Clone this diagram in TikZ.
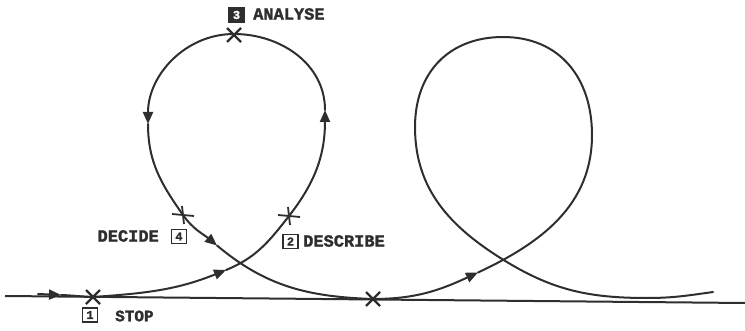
\documentclass[tikz,border=0pt]{standalone}
\usepackage{fontspec}
\newfontfamily\lblfont{Liberation Mono}[BoldFeatures={FakeBold=1.6}]
\usetikzlibrary{arrows.meta}
\definecolor{ink}{HTML}{2E2E2E}
\tikzset{
  curve/.style={line width=2pt, draw=ink, line cap=round},
  arr/.style={-{Triangle[length=12pt,width=10pt]}},
  lbl/.style={font=\lblfont\bfseries\fontsize{17}{17}\selectfont, inner sep=0pt, text=ink},
  numbox/.style={draw=ink, line width=1.8pt, minimum width=15pt, minimum height=14pt, inner sep=0pt,
     font=\lblfont\bfseries\fontsize{12}{12}\selectfont, text=ink},
  xcross/.pic={\draw[line width=2.4pt, ink] (-7,-7) -- (7,7) (-7,7) -- (7,-7);},
  pcross/.pic={\draw[line width=1.8pt, ink] (-11,1) -- (11,-1) (-1,9) -- (1,-9);}
}
\begin{document}
\begin{tikzpicture}[x=1pt,y=1pt]
\useasboundingbox (0,0) rectangle (745,330);
% baseline
\coordinate (BL) at (5,34);
\coordinate (BR) at (745,27);
\draw[line width=2pt, ink] (BL) -- (BR);
% curve points
\coordinate (S)  at (38,36);
\coordinate (A1) at (61,35);
\coordinate (M1) at (93,33);
\coordinate (A2) at (226,60);
\coordinate (D2) at (289,114);
\coordinate (R1) at (325,220);
\coordinate (T1) at (234,296);
\coordinate (L1) at (148,206);
\coordinate (D4) at (183,115);
\coordinate (A5) at (217,84.5);
\coordinate (B)  at (373,31);
\coordinate (A6) at (478,57.5);
\coordinate (R2) at (592,195);
\coordinate (T2) at (503,293);
\coordinate (L2) at (415,203);
\coordinate (X2) at (502,71);
\coordinate (B2) at (647,32);
\coordinate (E)  at (713,38);
% curve
\draw[curve,arr] (S) to[out=-2,in=178] (A1);
\draw[curve] (A1) to[out=-2,in=178] (M1);
\draw[curve,arr] (M1) to[out=4,in=202] (A2);
\draw[curve] (A2) to[out=22,in=232] (D2);
\draw[curve,arr] (D2) to[out=52,in=270] (R1);
\draw[curve] (R1) to[out=90,in=0] (T1);
\draw[curve,arr] (T1) to[out=180,in=90] (L1);
\draw[curve] (L1) to[out=270,in=125] (D4);
\draw[curve,arr] (D4) to[out=-55,in=140] (A5);
\draw[curve] (A5) to[out=-40,in=178] (B);
\draw[curve,arr] (B) to[out=0,in=205] (A6);
\draw[curve] (A6) to[out=25,in=270] (R2);
\draw[curve] (R2) to[out=90,in=0,looseness=1.1] (T2);
\draw[curve] (T2) to[out=180,in=90,looseness=1.1] (L2);
\draw[curve] (L2) to[out=270,in=148] (X2);
\draw[curve] (X2) to[out=-32,in=180] (B2);
\draw[curve] (B2) to[out=0,in=188] (E);
% marks
\pic at (M1) {xcross};
\pic at (234,295) {xcross};
\pic at (B) {xcross};
\pic at (D2) {pcross};
\pic at (D4) {pcross};
% labels
\node[numbox, fill=ink, text=white] (n3) at (236.5,315) {3};
\node[lbl, anchor=west] (t3) at (253,316) {ANALYSE};
\node[numbox] (n4) at (179,93.5) {4};
\node[lbl, anchor=east] (t4) at (159,94) {DECIDE};
\node[numbox] (n2) at (290.5,88.5) {2};
\node[lbl, anchor=west] (t2) at (303,89) {DESCRIBE};
\node[numbox] (n1) at (90,15) {1};
\node[lbl, anchor=west, font=\lblfont\bfseries\fontsize{16}{16}\selectfont] (t1) at (115,14) {STOP};
\end{tikzpicture}
\end{document}
